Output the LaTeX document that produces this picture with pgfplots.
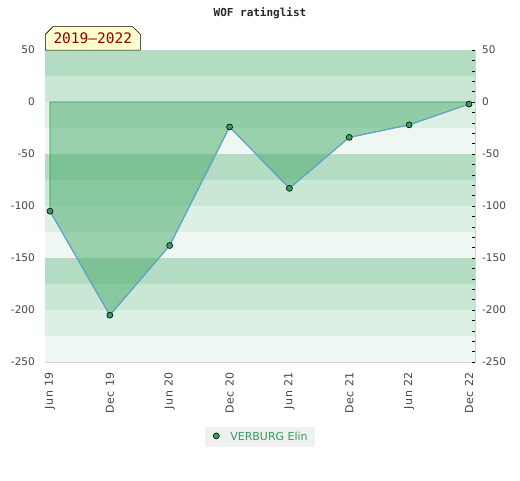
\documentclass[border=0pt]{standalone}
\usepackage{fontspec}
\setmainfont{DejaVu Sans}
\newfontfamily\monofont{DejaVu Sans Mono}
\newfontfamily\spacedfont[LetterSpace=6]{DejaVu Sans}
\usepackage{pgfplots}
\pgfplotsset{compat=1.18}
\usetikzlibrary{shapes.misc}

\definecolor{bandA}{RGB}{179,220,195}
\definecolor{bandB}{RGB}{201,231,212}
\definecolor{bandC}{RGB}{221,240,228}
\definecolor{bandD}{RGB}{238,247,241}
\definecolor{areafill}{RGB}{70,170,105}
\definecolor{areaedge}{RGB}{40,160,80}
\definecolor{lineblue}{RGB}{100,160,220}
\definecolor{markgreen}{RGB}{50,160,90}
\definecolor{legendgreen}{RGB}{50,160,90}
\definecolor{legendgray}{RGB}{240,240,240}
\definecolor{labelfill}{RGB}{255,255,204}
\definecolor{labeltext}{RGB}{140,0,0}
\definecolor{ticktext}{RGB}{68,68,68}
\definecolor{frame}{RGB}{210,210,210}

\pgfplotsset{
  common/.style={
    at={(45pt,118pt)}, anchor=south west,
    scale only axis, width=430pt, height=312pt,
    xmin=-0.083, xmax=7.1, ymin=-250, ymax=50,
    ytick distance=50,
    /pgf/number format/assume math mode=true,
    tick label style={font=\fontsize{10.5}{12}\selectfont, text=ticktext},
    axis line style={frame},
  },
}

\begin{document}
\begin{tikzpicture}
\useasboundingbox (0,0) rectangle (520pt,480pt);

\begin{axis}[common,
  xtick={0,1,2,3,4,5,6,7},
  xticklabels={Jun 19,Dec 19,Jun 20,Dec 20,Jun 21,Dec 21,Jun 22,Dec 22},
  xtick pos=bottom, ytick pos=left,
  major tick length=0pt,
  xticklabel style={yshift=-10pt, rotate=90, anchor=east, inner sep=0pt,
    font=\spacedfont\fontsize{11}{12}\selectfont},
  yticklabel style={anchor=east, inner sep=0pt, xshift=-10pt},
  legend style={at={(0.5,-0.24)}, anchor=center, fill=legendgray, draw=none,
    text=legendgreen, font=\fontsize{11}{13}\selectfont,
    inner xsep=5.5pt, inner ysep=3pt},
  legend image code/.code={%
    \path[draw=none] (-6pt,0pt) -- (12pt,0pt);
    \draw[mark=*, mark size=3pt, #1] plot coordinates {(0pt,1pt)};},
]
% background bands
\addplot[forget plot, draw=none, fill=bandA] coordinates {(-1,25)(8,25)(8,50)(-1,50)} -- cycle;
\addplot[forget plot, draw=none, fill=bandB] coordinates {(-1,0)(8,0)(8,25)(-1,25)} -- cycle;
\addplot[forget plot, draw=none, fill=bandC] coordinates {(-1,-25)(8,-25)(8,0)(-1,0)} -- cycle;
\addplot[forget plot, draw=none, fill=bandD] coordinates {(-1,-50)(8,-50)(8,-25)(-1,-25)} -- cycle;
\addplot[forget plot, draw=none, fill=bandA] coordinates {(-1,-75)(8,-75)(8,-50)(-1,-50)} -- cycle;
\addplot[forget plot, draw=none, fill=bandB] coordinates {(-1,-100)(8,-100)(8,-75)(-1,-75)} -- cycle;
\addplot[forget plot, draw=none, fill=bandC] coordinates {(-1,-125)(8,-125)(8,-100)(-1,-100)} -- cycle;
\addplot[forget plot, draw=none, fill=bandD] coordinates {(-1,-150)(8,-150)(8,-125)(-1,-125)} -- cycle;
\addplot[forget plot, draw=none, fill=bandA] coordinates {(-1,-175)(8,-175)(8,-150)(-1,-150)} -- cycle;
\addplot[forget plot, draw=none, fill=bandB] coordinates {(-1,-200)(8,-200)(8,-175)(-1,-175)} -- cycle;
\addplot[forget plot, draw=none, fill=bandC] coordinates {(-1,-225)(8,-225)(8,-200)(-1,-200)} -- cycle;
\addplot[forget plot, draw=none, fill=bandD] coordinates {(-1,-250)(8,-250)(8,-225)(-1,-225)} -- cycle;

% area between zero and the rating curve
\addplot[forget plot, fill=areafill, fill opacity=0.5, draw=areaedge, line width=0.8pt]
  coordinates {(0,-105)(0,0)(7,0)(7,-2)(6,-22)(5,-34)(4,-83)(3,-24)(2,-138)(1,-205)} -- cycle;

\addplot[color=lineblue, line width=1pt, mark=*, mark size=3pt,
  mark options={fill=markgreen, draw=black, line width=0.6pt}]
  coordinates {(0,-105)(1,-205)(2,-138)(3,-24)(4,-83)(5,-34)(6,-22)(7,-2)};
\addlegendentry{VERBURG Elin}
\end{axis}

\begin{axis}[common,
  hide x axis, axis y line*=right,
  yticklabel pos=right,
  minor y tick num=4,
  tick align=inside,
  major tick length=3pt, minor tick length=3pt,
  tick style={black, line width=0.5pt},
  yticklabel style={anchor=west, inner sep=0pt, xshift=7pt},
]
\addplot[draw=none] coordinates {(0,0)};
\end{axis}

\node[font=\monofont\bfseries\fontsize{11}{12}\selectfont, text=black!85] at (260pt,467pt) {WOF ratinglist};
\node[chamfered rectangle, chamfered rectangle corners={north west,north east},
  chamfered rectangle xsep=4pt, draw=black, fill=labelfill, line width=0.6pt,
  anchor=south west, minimum width=95pt, minimum height=23.5pt, inner sep=0pt,
  text=labeltext, font=\monofont\fontsize{14.5}{16}\selectfont] at (45pt,429.5pt) {2019–2022};
\end{tikzpicture}
\end{document}
